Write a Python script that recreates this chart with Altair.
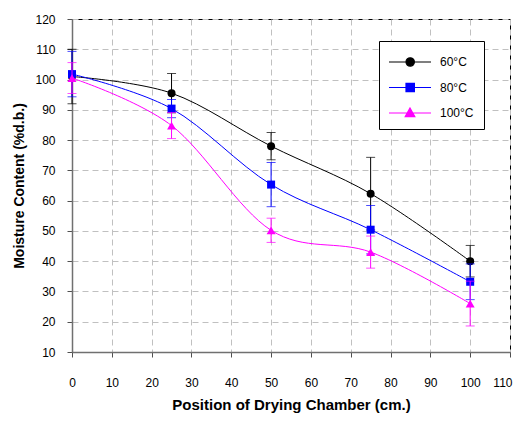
import altair as alt
import pandas as pd

positions = [0, 25, 50, 75, 100]
series_names = ["60°C", "80°C", "100°C"]
m60 = [101.0, 95.5, 78.0, 62.3, 40.0]
e60 = [9.0, 6.5, 4.5, 12.0, 5.2]
m80 = [101.8, 90.4, 65.3, 50.4, 33.2]
e80 = [7.5, 3.0, 7.3, 8.0, 5.9]
m100 = [100.5, 84.8, 50.2, 43.0, 26.0]
e100 = [5.1, 4.3, 4.0, 5.3, 7.4]
colors = ["#000000", "#0000ff", "#ff00ff"]
shapes = ["circle", "square", "triangle-up"]
x_ticks = list(range(0, 111, 10))
y_ticks = list(range(10, 121, 10))

rows = []
for name, mv, ev in zip(series_names, [m60, m80, m100], [e60, e80, e100]):
    for x, m, e in zip(positions, mv, ev):
        rows.append({"series": name, "x": x, "m": m, "lo": m - e, "hi": m + e})
df = pd.DataFrame(rows)

xs = alt.Scale(domain=[0, 110], nice=False)
ys = alt.Scale(domain=[10, 120], nice=False)

xaxis = alt.Axis(values=x_ticks, title="Position of Drying Chamber (cm.)",
                 labelPadding=20, titlePadding=9, labelOverlap=False, titleFontSize=15,
                 labelAlign={"condition": {"test": "datum.value >= 110", "value": "right"},
                             "value": "center"},
                 labelOffset={"condition": {"test": "datum.value >= 110", "value": 2},
                              "value": 0})
yaxis = alt.Axis(values=y_ticks, title="Moisture Content (%d.b.)",
                 labelPadding=12, titlePadding=8, labelOverlap=False, titleFontSize=14)

base = alt.Chart(df)
layers = []
for name, col, shp in zip(series_names, colors, shapes):
    b = base.transform_filter(alt.datum.series == name)
    X = alt.X("x:Q", scale=xs, axis=xaxis)
    Y = alt.Y("m:Q", scale=ys, axis=yaxis)
    line = b.mark_line(color=col, strokeWidth=1, interpolate="cardinal").encode(x=X, y=Y)
    rule = b.mark_rule(color=col, strokeWidth=1).encode(
        x=X, y=alt.Y("lo:Q", scale=ys, axis=yaxis), y2="hi:Q")
    caplo = b.mark_tick(color=col, orient="horizontal", size=9, thickness=1).encode(
        x=X, y=alt.Y("lo:Q", scale=ys, axis=yaxis))
    caphi = b.mark_tick(color=col, orient="horizontal", size=9, thickness=1).encode(
        x=X, y=alt.Y("hi:Q", scale=ys, axis=yaxis))
    pt = b.mark_point(color=col, shape=shp, filled=True, opacity=1,
                      size=80 if shp == "triangle-up" else 64).encode(x=X, y=Y)
    layers += [line, rule, caplo, caphi, pt]

leg_paths = [
    "M-1.1,0H3.1M0.6,0A0.42,0.42,0,1,1,1.44,0A0.42,0.42,0,1,1,0.6,0Z",
    "M-1.1,0H3.1M0.6,-0.42H1.44V0.42H0.6Z",
    "M-1.1,0H3.1M1.0,-0.5L1.48,0.36H0.52Z",
]
leg = alt.Legend(title=None, orient="none", legendX=307, legendY=22,
                 strokeColor="#000000", fillColor="#ffffff", padding=10,
                 symbolSize=400, symbolStrokeWidth=1.2, symbolOpacity=1,
                 labelOffset=29, rowPadding=7.5, labelFontSize=12,
                 labelFont="Liberation Sans", labelColor="#000000")
legend_layer = base.mark_point(filled=True, opacity=0).encode(
    x=alt.X("x:Q", scale=xs, axis=xaxis), y=alt.Y("m:Q", scale=ys, axis=yaxis),
    fill=alt.Fill("series:N", scale=alt.Scale(domain=series_names, range=colors), legend=leg),
    stroke=alt.Stroke("series:N", scale=alt.Scale(domain=series_names, range=colors), legend=leg),
    shape=alt.Shape("series:N", scale=alt.Scale(domain=series_names, range=leg_paths), legend=leg),
)
layers.append(legend_layer)

chart = alt.layer(*layers).properties(
    width=438, height=333,
    background="#ffffff",
    autosize=alt.AutoSizeParams(type="none"),
    padding={"left": 64, "top": 11, "right": 3, "bottom": 62},
).configure_view(stroke="#000000", strokeWidth=1).configure_axis(
    grid=True, gridColor="#c0c0c0", gridDash=[6, 4], gridWidth=1,
    domainColor="#707070", domainWidth=1.5, tickColor="#505050", tickSize=5,
    labelFont="Liberation Sans", labelFontSize=12, labelColor="#000000",
    labelOverlap=False, labelFlush=False,
    titleFont="Liberation Sans", titleFontWeight="bold", titleColor="#000000",
)

chart.save("out.html", embed_options={"renderer": "svg", "actions": False})
